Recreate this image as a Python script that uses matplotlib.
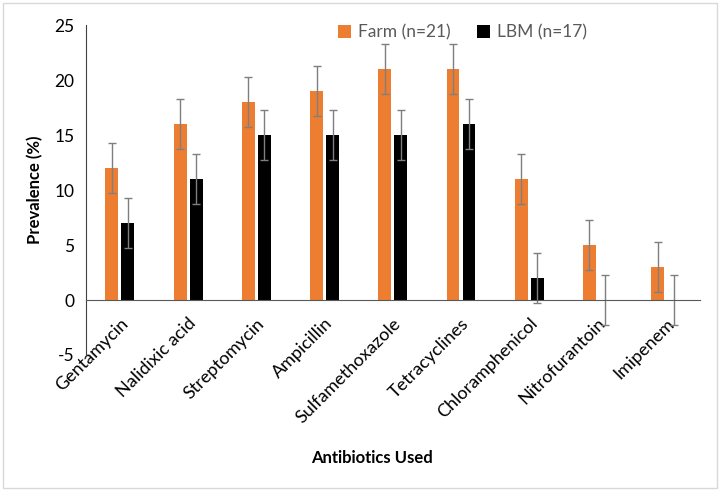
import matplotlib.pyplot as plt
import numpy as np
from matplotlib.patches import Rectangle

antibiotics = ['Gentamycin', 'Nalidixic acid', 'Streptomycin', 'Ampicillin',
               'Sulfamethoxazole', 'Tetracyclines', 'Chloramphenicol',
               'Nitrofurantoin', 'Imipenem']
farm = [12, 16, 18, 19, 21, 21, 11, 5, 3]
lbm = [7, 11, 15, 15, 15, 16, 2, 0, 0]
farm_err = [2.25] * 9
lbm_err = [2.25] * 9
y_ticks = [-5, 0, 5, 10, 15, 20, 25]

plt.rcParams['font.family'] = ['Lato', 'DejaVu Sans']
plt.rcParams['axes.unicode_minus'] = False

fig = plt.figure(figsize=(7.2, 4.91), dpi=100)
ax = fig.add_axes([0.119, 0.277, 0.853, 0.672])

x = np.arange(len(antibiotics))
w = 0.19
ebar = dict(ecolor='#7f7f7f', elinewidth=1.0, capsize=3, capthick=1.0)
ax.bar(x - 0.117, farm, w, yerr=farm_err, color='#ed7d31', label='Farm (n=21)', error_kw=ebar)
ax.bar(x + 0.117, lbm, w, yerr=lbm_err, color='black', label='LBM (n=17)', error_kw=ebar)

ax.set_xlim(-0.5, len(antibiotics) - 0.5)
ax.set_ylim(-5, 25)
ax.set_yticks(y_ticks)
ax.set_yticklabels([str(v) for v in y_ticks])

ax.spines['top'].set_visible(False)
ax.spines['right'].set_visible(False)
ax.spines['bottom'].set_position(('data', 0))
ax.spines['bottom'].set_color('#595959')
ax.spines['left'].set_color('#404040')

ax.set_xticks(x)
ax.set_xticklabels(antibiotics, rotation=45, ha='right', rotation_mode='anchor', fontsize=13)
ax.tick_params(axis='x', length=0, pad=11)
ax.tick_params(axis='y', length=0, labelsize=12.5, pad=8)

ax.set_ylabel('Prevalence (%)', fontsize=12, fontweight='bold', labelpad=8)
fig.text(0.517, 0.067, 'Antibiotics Used', ha='center', va='center', fontsize=12, fontweight='bold')

ax.legend(loc='upper center', bbox_to_anchor=(0.614, 1.05), ncol=2, frameon=False,
          fontsize=12.5, labelcolor='#595959', handlelength=0.75, handleheight=0.75,
          columnspacing=1.5, handletextpad=0.4)

fig.patches.append(Rectangle((0.004, 0.006), 0.992, 0.988, transform=fig.transFigure,
                             fill=False, edgecolor='#d9d9d9', linewidth=1))

fig.savefig('out.png', dpi=100)
